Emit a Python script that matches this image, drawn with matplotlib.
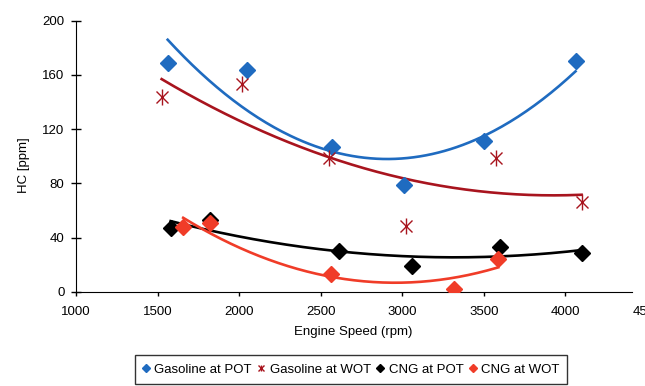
import numpy as np
import matplotlib
matplotlib.use("Agg")
import matplotlib.pyplot as plt
from matplotlib.lines import Line2D
from matplotlib.legend_handler import HandlerTuple

plt.rcParams['font.family'] = ['Liberation Sans', 'DejaVu Sans']

# Data
gas_pot_x = [1562, 2046, 2567, 3010, 3500, 4062]
gas_pot_y = [169, 164, 107, 79, 111, 170]

gas_wot_x = [1525, 2015, 2550, 3022, 3572, 4099]
gas_wot_y = [144, 153, 99, 49, 99, 66]

cng_pot_x = [1580, 1821, 2611, 3057, 3600, 4102]
cng_pot_y = [47, 53, 30, 19, 33, 29]

cng_wot_x = [1657, 1821, 2562, 3316, 3588]
cng_wot_y = [48, 51, 13, 2, 24]

x_ticks = [1000, 1500, 2000, 2500, 3000, 3500, 4000, 4500]
y_ticks = [0, 40, 80, 120, 160, 200]

labels = ["Gasoline at POT", "Gasoline at WOT", "CNG at POT", "CNG at WOT"]
c_blue = "#1F6BC0"
c_dred = "#A8141E"
c_black = "#000000"
c_orng = "#F03C28"

FS = 9.5

fig = plt.figure(figsize=(6.45, 3.86), dpi=100)
ax = fig.add_axes([76/645, 1-292/386, (647-76)/645, (292-20.7)/386])

def trend(xs, ys, deg, color):
    c = np.polyfit(xs, ys, deg)
    xx = np.linspace(min(xs), max(xs), 200)
    ax.plot(xx, np.polyval(c, xx), color=color, lw=1.9, zorder=2)

trend(gas_pot_x, gas_pot_y, 2, c_blue)
trend(gas_wot_x, gas_wot_y, 2, c_dred)
trend(cng_pot_x, cng_pot_y, 2, c_black)
trend(cng_wot_x, cng_wot_y, 2, c_orng)

ms = 8
ax.plot(gas_pot_x, gas_pot_y, 'D', color=c_blue, ms=ms, ls='none', zorder=3)
ax.plot(gas_wot_x, gas_wot_y, 'x', color=c_dred, ms=8, mew=1.0, ls='none', zorder=3)
ax.plot(gas_wot_x, gas_wot_y, '|', color=c_dred, ms=11, mew=1.0, ls='none', zorder=3)
ax.plot(cng_pot_x, cng_pot_y, 'D', color=c_black, ms=ms, ls='none', zorder=3)
ax.plot(cng_wot_x, cng_wot_y, 'D', color=c_orng, ms=ms, ls='none', zorder=3)

ax.set_xlim(1000, 4500)
ax.set_ylim(0, 200)
ax.set_xticks(x_ticks)
ax.set_yticks(y_ticks)
ax.tick_params(axis='x', labelsize=FS, length=3, width=1, direction='out', pad=7)
ax.tick_params(axis='y', labelsize=FS, length=6.5, width=1, direction='inout', pad=5)
for s in ['top', 'right']:
    ax.spines[s].set_visible(False)
ax.spines['bottom'].set_bounds(1000, 4410)
ax.set_xlabel("Engine Speed (rpm)", fontsize=FS)
ax.xaxis.set_label_coords((353-76)/571, -(326-292)/271.3)
ax.set_ylabel("HC [ppm]", fontsize=FS)
ax.yaxis.set_label_coords((30-76)/571, (292-165)/271.3)

h1 = Line2D([], [], marker='D', color=c_blue, ls='none', ms=4)
h2a = Line2D([], [], marker='x', color=c_dred, ls='none', ms=4, mew=1)
h2b = Line2D([], [], marker='|', color=c_dred, ls='none', ms=5, mew=1)
h3 = Line2D([], [], marker='D', color=c_black, ls='none', ms=4)
h4 = Line2D([], [], marker='D', color=c_orng, ls='none', ms=4)
leg = fig.legend([h1, (h2a, h2b), h3, h4], labels, ncol=4, loc='center',
                 bbox_to_anchor=(351/645, 1-369.5/386), fontsize=FS,
                 handler_map={tuple: HandlerTuple(ndivide=1)},
                 frameon=True, fancybox=False, edgecolor='black',
                 handlelength=0.5, handletextpad=0.4, columnspacing=0.45,
                 borderpad=0.6, borderaxespad=0)
leg.get_frame().set_linewidth(1.0)

fig.savefig("out.png", dpi=100)
